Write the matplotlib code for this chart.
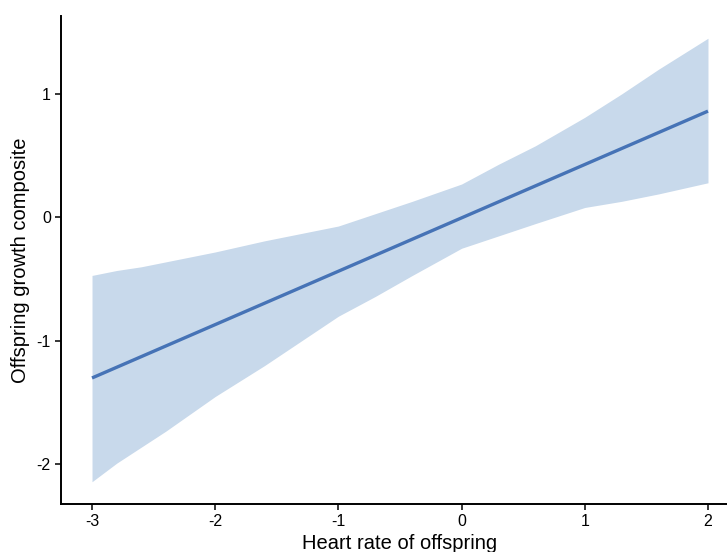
import matplotlib
matplotlib.use("Agg")
import matplotlib.pyplot as plt

# Data
line_x = [-3.0, 2.0]
line_y = [-1.30, 0.86]

band_x = [-3.0, -2.8, -2.6, -2.4, -2.0, -1.6, -1.3, -1.0, -0.7, -0.4,
          0.0, 0.3, 0.6, 1.0, 1.3, 1.6, 2.0]
band_upper = [-0.47, -0.43, -0.40, -0.36, -0.28, -0.19, -0.13, -0.07, 0.03, 0.13,
              0.27, 0.43, 0.58, 0.81, 1.00, 1.20, 1.45]
band_lower = [-2.14, -1.99, -1.86, -1.73, -1.45, -1.20, -1.00, -0.80, -0.64, -0.47,
              -0.25, -0.15, -0.05, 0.08, 0.13, 0.19, 0.28]

x_ticks = [-3, -2, -1, 0, 1, 2]
y_ticks = [-2, -1, 0, 1]

plt.rcParams['font.family'] = ['Liberation Sans', 'DejaVu Sans']

fig = plt.figure(figsize=(7.27, 5.52), dpi=100)
ax = fig.add_axes([0.0842, 0.087, 0.932, 0.884])

ax.fill_between(band_x, band_lower, band_upper, color='#c8d9eb', linewidth=0)
ax.plot(line_x, line_y, color='#4673b6', linewidth=2.4, solid_capstyle='butt')

ax.set_xlim(-3.25, 2.25)
ax.set_ylim(-2.32, 1.63)
ax.set_xticks(x_ticks)
ax.set_yticks(y_ticks)
ax.set_xticklabels([str(v) for v in x_ticks])
ax.set_yticklabels([str(v) for v in y_ticks])

for s in ['top', 'right']:
    ax.spines[s].set_visible(False)
for s in ['left', 'bottom']:
    ax.spines[s].set_linewidth(1.4)
    ax.spines[s].set_color('black')

ax.tick_params(axis='both', length=4, width=1.1, color='black',
               labelsize=11.5, labelcolor='black', pad=3.5)

ax.set_xlabel('Heart rate of offspring', fontsize=14.5, labelpad=3.5)
ax.set_ylabel('Offspring growth composite', fontsize=14.5, labelpad=5)

fig.savefig('out.png', dpi=100)
